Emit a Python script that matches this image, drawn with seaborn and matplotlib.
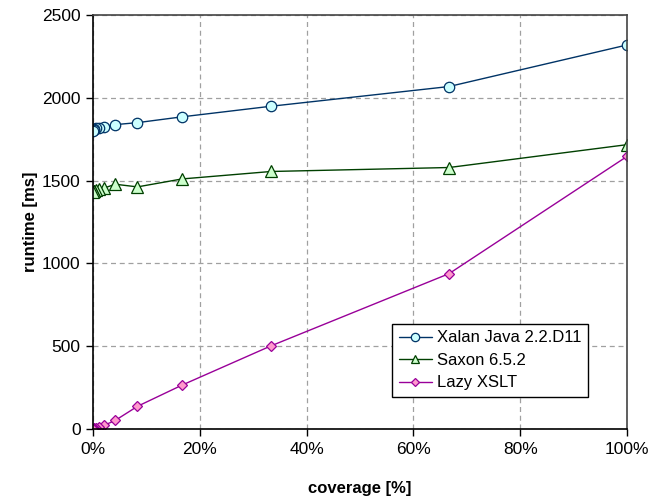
import matplotlib
matplotlib.use("Agg")
import matplotlib.pyplot as plt
import seaborn as sns
import pandas as pd
from matplotlib.ticker import FuncFormatter, MultipleLocator

coverage = [100, 66.67, 33.33, 16.67, 8.33, 4.17, 2.08, 1.04, 0.52, 0.26, 0.13, 0.065]
xalan = [2319, 2068, 1949, 1885, 1850, 1838, 1822, 1820, 1815, 1810, 1805, 1800]
saxon = [1717, 1579, 1555, 1510, 1462, 1478, 1455, 1450, 1445, 1440, 1435, 1432]
lazy = [1646, 938, 502, 265, 137, 52, 22, 12, 8, 5, 3, 2]
series_names = ["Xalan Java 2.2.D11", "Saxon 6.5.2", "Lazy XSLT"]

sns.set_theme(style="white")
plt.rcParams['font.family'] = ['Liberation Sans', 'DejaVu Sans']
plt.rcParams['text.color'] = 'black'
plt.rcParams['axes.labelcolor'] = 'black'
plt.rcParams['xtick.color'] = 'black'
plt.rcParams['ytick.color'] = 'black'

fig = plt.figure(figsize=(6.64, 4.97), dpi=100)
ax = fig.add_axes([93/664, 1 - 429/497, 534/664, 414/497])

styles = [
    dict(marker='o', color='#003366', mfc='#CCFFFF', mec='#003366', ms=7.5),
    dict(marker='^', color='#004000', mfc='#CCFFCC', mec='#004000', ms=8),
    dict(marker='D', color='#990099', mfc='#FF99CC', mec='#990099', ms=5),
]
for name, vals, st in zip(series_names, [xalan, saxon, lazy], styles):
    df = pd.DataFrame({"coverage": coverage, "runtime": vals})
    sns.lineplot(data=df, x="coverage", y="runtime", ax=ax, label=name,
                 color=st['color'], marker=st['marker'], markersize=st['ms'],
                 markerfacecolor=st['mfc'], markeredgecolor=st['mec'],
                 markeredgewidth=0.9, linewidth=1.0, sort=False)

ax.set_xlim(0, 100)
ax.set_ylim(0, 2500)
ax.xaxis.set_major_locator(MultipleLocator(20))
ax.yaxis.set_major_locator(MultipleLocator(500))
ax.xaxis.set_major_formatter(FuncFormatter(lambda v, p: f"{int(v)}%"))
ax.grid(True, linestyle=(0, (4, 3)), color='#a0a0a0', linewidth=0.9)
ax.set_axisbelow(True)
for s in ['left', 'bottom']:
    ax.spines[s].set_color('black')
    ax.spines[s].set_linewidth(1.2)
for s in ['top', 'right']:
    ax.spines[s].set_color('#444444')
    ax.spines[s].set_linewidth(1.2)
ax.tick_params(axis='both', which='major', direction='out', length=5, width=1,
               color='black', labelcolor='black', labelsize=12.5,
               bottom=True, left=True, pad=4)
ax.set_xlabel("coverage [%]", fontsize=12, fontweight='bold', labelpad=18, color='black')
ax.set_ylabel("runtime [ms]", fontsize=12, fontweight='bold', labelpad=3, color='black')

leg = ax.legend(loc='lower left', bbox_to_anchor=(0.56, 0.077), frameon=True,
                fancybox=False, edgecolor='black', fontsize=12,
                borderpad=0.4, labelspacing=0.45, handlelength=2.0,
                handletextpad=0.3, borderaxespad=0, markerscale=0.8)
leg.get_frame().set_linewidth(1.0)
leg.get_frame().set_facecolor('white')
leg.get_frame().set_alpha(1)
for t in leg.get_texts():
    t.set_color('black')

fig.savefig("out.png", dpi=100)
